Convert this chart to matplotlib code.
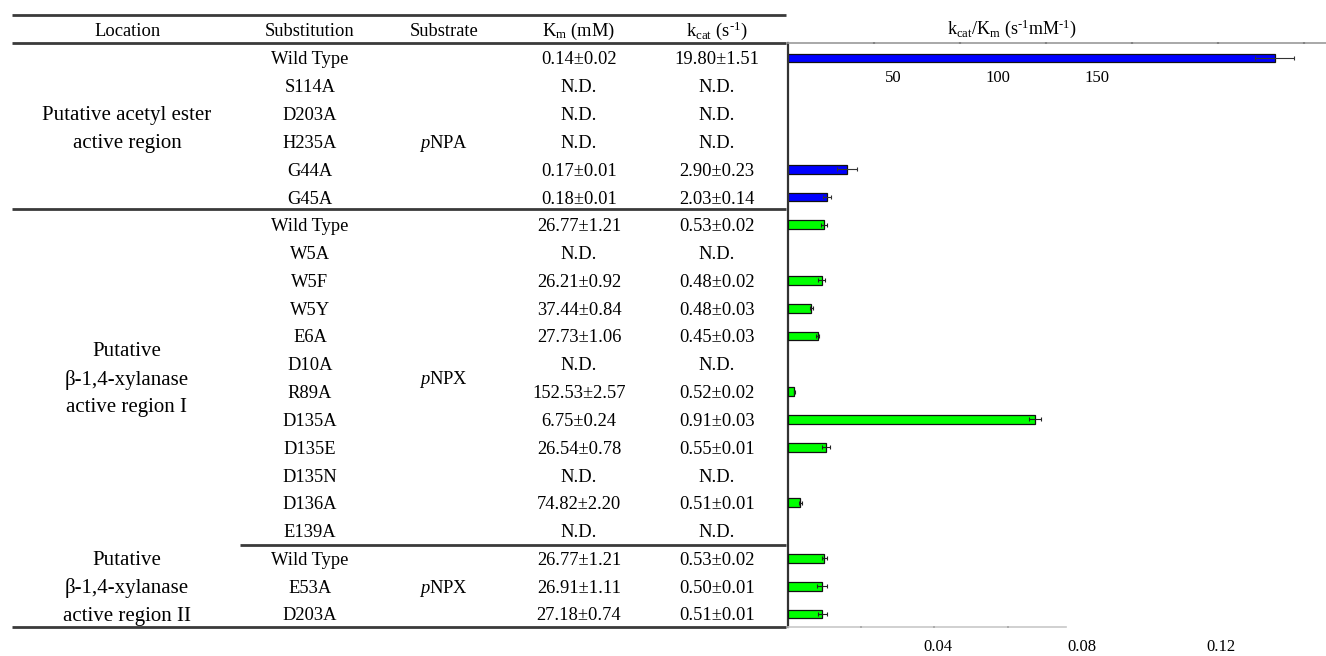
import matplotlib
matplotlib.use("Agg")
import matplotlib.pyplot as plt
import numpy as np

plt.rcParams["font.family"] = ["Liberation Serif", "DejaVu Serif"]
plt.rcParams["mathtext.fontset"] = "custom"
plt.rcParams["mathtext.rm"] = "Liberation Serif"
plt.rcParams["mathtext.it"] = "Liberation Serif:italic"

# ---- table data -------------------------------------------------------------
substitutions = ["Wild Type", "S114A", "D203A", "H235A", "G44A", "G45A",
                 "Wild Type", "W5A", "W5F", "W5Y", "E6A", "D10A", "R89A",
                 "D135A", "D135E", "D135N", "D136A", "E139A",
                 "Wild Type", "E53A", "D203A"]
km = [0.14, None, None, None, 0.17, 0.18,
      26.77, None, 26.21, 37.44, 27.73, None, 152.53,
      6.75, 26.54, None, 74.82, None,
      26.77, 26.91, 27.18]
km_err = [0.02, None, None, None, 0.01, 0.01,
          1.21, None, 0.92, 0.84, 1.06, None, 2.57,
          0.24, 0.78, None, 2.20, None,
          1.21, 1.11, 0.74]
kcat = [19.80, None, None, None, 2.90, 2.03,
        0.53, None, 0.48, 0.48, 0.45, None, 0.52,
        0.91, 0.55, None, 0.51, None,
        0.53, 0.50, 0.51]
kcat_err = [1.51, None, None, None, 0.23, 0.14,
            0.02, None, 0.02, 0.03, 0.03, None, 0.02,
            0.03, 0.01, None, 0.01, None,
            0.02, 0.01, 0.01]
# spread of kcat/Km for each variant
ratio_err = [5.8, None, None, None, 2.9, 1.1,
             0.0017, None, 0.0019, 0.0007, 0.0007, None, 0.0003,
             0.0033, 0.0022, None, 0.0006, None,
             0.0014, 0.0025, 0.0023]

locations = ["Putative acetyl ester\nactive region",
             "Putative\n\u03b2-1,4-xylanase\nactive region I",
             "Putative\n\u03b2-1,4-xylanase\nactive region II"]
location_rows = [(0, 5), (6, 17), (18, 20)]   # rows spanned by each group
substrates = ["$\\it{p}$NPA", "$\\it{p}$NPX", "$\\it{p}$NPX"]
substrate_rows = [3, 11.5, 19]
pnpa_rows = list(range(0, 6))
pnpx_rows = list(range(6, 21))

top_ticks = [25, 50, 75, 100, 125, 150]
top_labels = ["50", "100", "150"]
bottom_ticks = [0.04, 0.08, 0.12]
bottom_labels = ["0.04", "0.08", "0.12"]

# ---- figure -----------------------------------------------------------------
W, H = 1326, 656
fig = plt.figure(figsize=(W / 100, H / 100), dpi=100)
canvas = fig.add_axes([0, 0, 1, 1])
canvas.set_xlim(0, W)
canvas.set_ylim(H, 0)
canvas.axis("off")

row0, drow = 58.0, 27.8
dy = 2.0  # text baseline nudge
def row_y(i):
    return row0 + drow * i

fs = 13.3
line_kw = dict(color="#3a3a3a", lw=2.0, solid_capstyle="butt")
for y, x0 in [(15, 12), (43, 12), (209, 12), (545, 240), (627, 12)]:
    canvas.plot([x0, 786], [y, y], **line_kw)

def put(x, y, s, size=fs):
    canvas.text(x, y + dy, s, ha="center", va="center", fontsize=size)

col_x = {"loc": 127, "sub": 310, "substrate": 444, "km": 579, "kcat": 717}
hdr_y = 29
put(col_x["loc"], hdr_y, "Location")
put(col_x["sub"], hdr_y, "Substitution")
put(col_x["substrate"], hdr_y, "Substrate")
put(col_x["km"], hdr_y, "K$_\\mathregular{m}$ (mM)")
put(col_x["kcat"], hdr_y, "k$_\\mathregular{cat}$ (s$^\\text{-1}$)")

def fmt(v, e):
    return "N.D." if v is None else f"{v:.2f}\u00b1{e:.2f}"

for i, s in enumerate(substitutions):
    y = row_y(i)
    put(col_x["sub"], y, s)
    put(col_x["km"], y, fmt(km[i], km_err[i]))
    put(col_x["kcat"], y, fmt(kcat[i], kcat_err[i]))

for loc, (a, b) in zip(locations, location_rows):
    yc = (row_y(a) + row_y(b)) / 2
    lines = loc.split("\n")
    n = len(lines)
    for k, t in enumerate(lines):
        put(col_x["loc"], yc + (k - (n - 1) / 2) * drow, t, size=15)
for sub, r in zip(substrates, substrate_rows):
    put(col_x["substrate"], row_y(r), sub)

# ---- kcat/Km bars -----------------------------------------------------------
ratio = [None if (a is None or b is None) else b / a for a, b in zip(km, kcat)]

x_left, y_top, y_bot = 788, 43, 627
ylim = ((y_bot - row0) / drow, (y_top - row0) / drow)
bar_h = 0.32

ax_a = fig.add_axes([x_left / W, (H - y_bot) / H, (W - x_left) / W, (y_bot - y_top) / H])
ax_a.set_facecolor("none")
ax_a.set_xlim(0, (W - x_left) / 3.44)
ax_a.set_ylim(*ylim)
for i in pnpa_rows:
    if ratio[i] is not None:
        ax_a.barh(i, ratio[i], height=bar_h, color="#0000ff", edgecolor="#111111", lw=0.9)
        ax_a.errorbar(ratio[i], i, xerr=ratio_err[i], fmt="none", ecolor="#333333",
                      elinewidth=0.8, capsize=1.5, capthick=0.8)
ax_a.spines["bottom"].set_visible(False)
ax_a.spines["right"].set_visible(False)
ax_a.spines["top"].set_color("#9a9a9a")
ax_a.spines["top"].set_linewidth(1.2)
ax_a.spines["left"].set_color("#333333")
ax_a.spines["left"].set_linewidth(1.6)
ax_a.xaxis.set_ticks_position("top")
ax_a.set_xticks(top_ticks)
ax_a.set_xticklabels([])
ax_a.tick_params(axis="x", length=2, width=1.6, color="#111111", direction="inout")
ax_a.set_yticks([])

gx_right = 1066
ax_x = fig.add_axes([x_left / W, (H - y_bot) / H, (gx_right - x_left) / W, (y_bot - y_top) / H])
ax_x.set_facecolor("none")
ax_x.set_xlim(0, (gx_right - x_left) / 1830)
ax_x.set_ylim(*ylim)
for i in pnpx_rows:
    if ratio[i] is not None:
        ax_x.barh(i, ratio[i], height=bar_h, color="#00ff00", edgecolor="#111111", lw=0.9)
        ax_x.errorbar(ratio[i], i, xerr=ratio_err[i], fmt="none", ecolor="#222222",
                      elinewidth=0.8, capsize=1.5, capthick=0.8)
for side in ["top", "right", "left"]:
    ax_x.spines[side].set_visible(False)
ax_x.spines["bottom"].set_color("#c8c8c8")
ax_x.spines["bottom"].set_linewidth(1.2)
ax_x.set_xticks(bottom_ticks)
ax_x.set_xticklabels([])
ax_x.tick_params(axis="x", length=2, width=1.4, color="#222222", direction="inout")
ax_x.set_yticks([])

# axis captions and tick numbers
put(1012, 27, "$\\mathregular{k_{cat}/K_m\\ (s^{\\text{-1}}mM^{\\text{-1}})}$", size=13)
for t, x in zip(top_labels, [893, 998, 1097]):
    put(x, 76, t, size=12)
for t, x in zip(bottom_labels, [938, 1082, 1221]):
    put(x, 645, t, size=12)

fig.savefig("out.png", dpi=100)
